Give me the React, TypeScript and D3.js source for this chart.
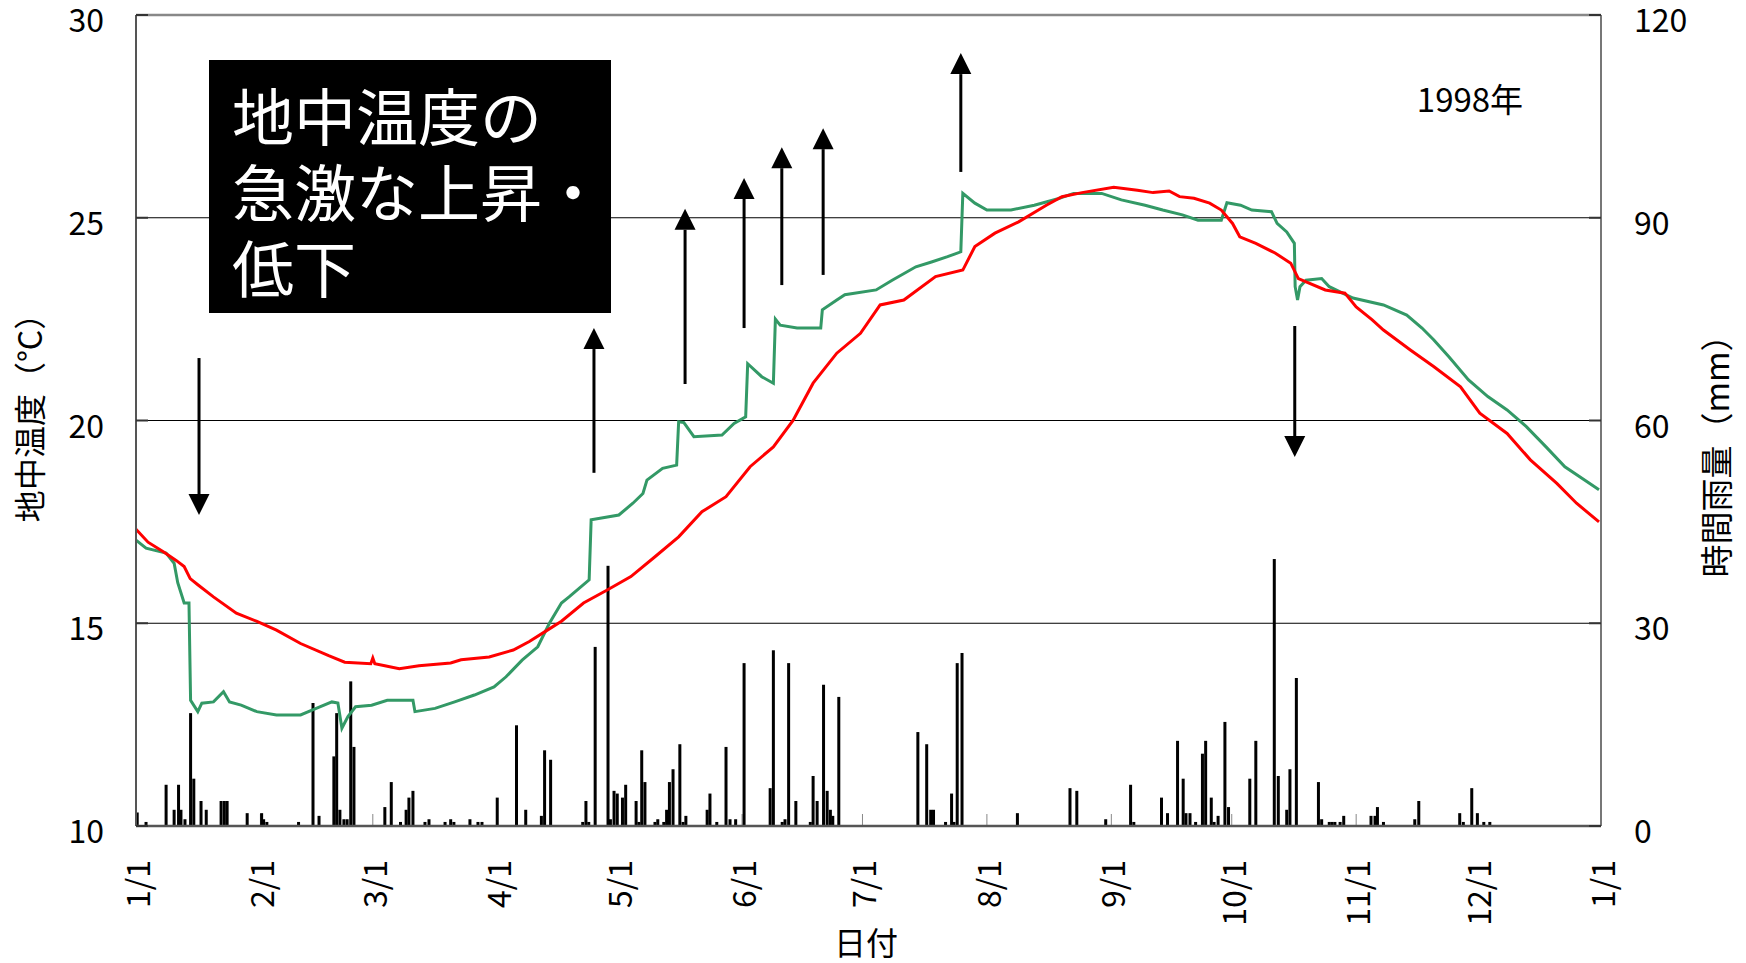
import React from "react";
import * as d3 from "d3";

const W = 1746;
const H = 963;
const FONT = "'Noto Sans CJK JP', 'Noto Sans', sans-serif";

// Soil temperature, series shown in red: [day of year (fractional), °C]
const redSeries: [number, number][] = [
  [0, 17.32], [3, 17.0], [7, 16.75], [10, 16.55], [12, 16.4], [13.5, 16.1], [15.4, 15.95],
  [19.3, 15.65], [25, 15.25], [30, 15.05], [35, 14.83], [41, 14.5], [48, 14.2], [52, 14.04],
  [58.5, 14.0], [59, 14.14], [59.5, 14.0], [62, 13.95], [65.6, 13.88], [70.5, 13.95],
  [78.4, 14.02], [81, 14.1], [88, 14.17], [94, 14.34], [98, 14.55], [102, 14.8], [106, 15.05],
  [111.5, 15.5], [117.4, 15.82], [123.3, 16.15], [129.3, 16.64], [135.2, 17.13], [141, 17.75],
  [147, 18.12], [153, 18.86], [158.8, 19.35], [163.7, 20.0], [168.7, 20.92], [174.6, 21.66],
  [180.5, 22.15], [185.4, 22.85], [191.3, 22.97], [199.2, 23.55], [206, 23.71], [209, 24.29],
  [214, 24.62], [219.9, 24.9], [226.8, 25.31], [230.7, 25.52], [235.7, 25.62], [243.6, 25.75],
  [249.5, 25.68], [253.4, 25.62], [257.4, 25.66], [260, 25.52], [263.6, 25.48], [267.5, 25.36],
  [270.4, 25.19], [273.2, 24.86], [275, 24.53], [279, 24.37], [283.8, 24.13], [287.7, 23.88],
  [289.6, 23.5], [296.3, 23.22], [301.2, 23.14], [304, 22.8], [308, 22.48], [310.8, 22.23],
  [317.5, 21.74], [323.3, 21.33], [330, 20.83], [334.8, 20.18], [341.6, 19.68], [347.4, 19.03],
  [354, 18.45], [358.9, 17.96], [364.5, 17.5],
];

// Soil temperature, series shown in green: [day of year (fractional), °C]
const greenSeries: [number, number][] = [
  [0, 17.05], [2.5, 16.85], [7.5, 16.73], [9.5, 16.48], [10.4, 16.0], [12, 15.5], [13.2, 15.5],
  [13.6, 13.1], [15.4, 12.82], [16.4, 13.03], [19.3, 13.06], [21.8, 13.31], [23.3, 13.06],
  [26.2, 12.98], [30.1, 12.82], [35, 12.74], [41, 12.74], [44.9, 12.9], [48.8, 13.06],
  [50.3, 13.03], [51.3, 12.41], [52.8, 12.7], [54.7, 12.94], [58.7, 12.98], [62.6, 13.1],
  [69, 13.1], [69.5, 12.82], [74.5, 12.9], [79.4, 13.06], [84.3, 13.23], [89.2, 13.43],
  [92.2, 13.68], [96.2, 14.09], [100.1, 14.42], [103, 15.0], [106, 15.5], [107.9, 15.65],
  [112.9, 16.07], [113.4, 17.55], [120.3, 17.67], [123.8, 17.96], [126.3, 18.2], [127.3, 18.53],
  [131.2, 18.82], [134.7, 18.9], [135.2, 19.97], [136.5, 19.95], [139, 19.6], [146, 19.64],
  [149, 19.93], [151.9, 20.09], [152.4, 21.4], [155.9, 21.08], [158.8, 20.92], [159.3, 22.5],
  [160.5, 22.35], [164.7, 22.28], [170.6, 22.28], [171, 22.73], [174.6, 22.97], [176.6, 23.1],
  [184.4, 23.22], [188.4, 23.46], [194.3, 23.79], [198.2, 23.91], [202.2, 24.04], [205.5, 24.16],
  [206, 25.6], [209, 25.36], [212, 25.19], [218, 25.19], [223.8, 25.31], [229.7, 25.47],
  [233.6, 25.6], [240.6, 25.6], [245.5, 25.44], [251.4, 25.31], [255.8, 25.19], [260.7, 25.07],
  [264.6, 24.94], [270.4, 24.94], [271.8, 25.37], [275.2, 25.31], [278, 25.19], [282.9, 25.15],
  [284.3, 24.86], [286.7, 24.65], [288.6, 24.37], [288.8, 23.3], [289.4, 22.97], [290, 23.3],
  [291.5, 23.46], [295.4, 23.5], [297.3, 23.3], [303.2, 23.02], [310.8, 22.85], [316.6, 22.6],
  [320.4, 22.28], [323.3, 21.99], [327.1, 21.57], [332, 21.0], [336.8, 20.59], [341.6, 20.26],
  [346.4, 19.85], [351.3, 19.35], [356, 18.86], [360.9, 18.53], [364.5, 18.29],
];

// Hourly rainfall: [day of year (fractional), mm]
const rainfall: [number, number][] = [
  [0.3, 2], [2.5, 0.6], [7.5, 6.1], [9.5, 2.4], [10.6, 6.1], [11.2, 2.4], [12.2, 1.0],
  [13.6, 16.7], [14.4, 7.0], [16.2, 3.7], [17.5, 2.4], [21.2, 3.7], [22, 3.7], [22.7, 3.7],
  [27.7, 1.9], [31.3, 1.9], [31.8, 1.0], [32.6, 0.6], [40.5, 0.6], [44.1, 18.2], [45.6, 1.5],
  [49.3, 10.3], [50, 16.7], [50.8, 2.4], [51.8, 1.0], [52.6, 1.0], [53.5, 21.4], [54.3, 11.7],
  [62, 2.8], [63.6, 6.5], [65.9, 0.6], [67.3, 2.4], [68, 4.2], [69, 5.2], [72, 0.6], [73, 1.0],
  [77, 0.6], [78.4, 1.0], [79.2, 0.6], [83.2, 1.0], [85.2, 0.6], [86.2, 0.6], [90, 4.2],
  [94.8, 14.9], [97.1, 2.4], [101, 1.5], [101.8, 11.2], [103.3, 9.8], [111.3, 0.6], [112.1, 3.7],
  [112.8, 0.6], [114.4, 26.5], [117.6, 38.5], [118.2, 1.0], [119.1, 5.2], [119.9, 4.8],
  [121.2, 4.2], [122, 6.1], [124.6, 3.7], [125.3, 0.6], [126, 11.2], [126.8, 6.5], [129.3, 0.6],
  [130, 1.0], [131.5, 0.6], [132.2, 2.4], [132.9, 6.5], [133.8, 8.4], [135.5, 12.1], [136.3, 0.6],
  [137, 1.5], [142.3, 2.4], [143, 4.8], [144.7, 0.6], [147, 11.7], [148, 1.0], [149.4, 1.0],
  [151.5, 24.1], [158, 5.6], [158.8, 26.0], [161, 0.6], [161.7, 1.0], [162.6, 24.1], [164.4, 3.7],
  [168, 0.6], [168.7, 7.4], [169.7, 3.7], [171.3, 20.9], [172.2, 5.2], [173, 2.4], [173.6, 1.5],
  [175.1, 19.1], [194.8, 13.9], [197, 12.1], [198, 2.4], [198.7, 2.4], [201.7, 0.6], [203.2, 4.8],
  [203.8, 0.6], [204.6, 24.1], [205.8, 25.6], [219.6, 1.9], [232.7, 5.6], [234.4, 5.2],
  [241.6, 1.0], [247.8, 6.1], [248.6, 0.6], [255.5, 4.2], [257, 1.9], [259.5, 12.6], [260.9, 7.0],
  [261.6, 1.9], [262.6, 1.9], [264, 0.6], [265.7, 10.7], [266.5, 12.6], [267.9, 4.2], [268.6, 0.6],
  [269.6, 1.5], [271.3, 15.4], [272.2, 2.8], [277.5, 7.0], [279, 12.6], [283.6, 39.5], [284.6, 7.4],
  [286.7, 2.4], [287.5, 8.4], [289.1, 21.9], [294.6, 6.5], [295.4, 1.0], [297.3, 0.6], [298, 0.6],
  [298.7, 0.6], [300, 0.6], [300.9, 1.5], [307.7, 1.5], [308.7, 1.5], [309.3, 2.8], [310.8, 0.6],
  [318.6, 1.0], [319.6, 3.7], [329.8, 1.9], [330.7, 0.6], [332.8, 5.6], [334.2, 1.9], [335.8, 0.6],
  [337.3, 0.6],
];

// Marked sudden rises / drops: day of year, arrow tail and tip in °C
const arrows: { day: number; from: number; to: number }[] = [
  { day: 15.7, from: 21.54, to: 17.67 },
  { day: 114.1, from: 18.71, to: 22.28 },
  { day: 136.8, from: 20.9, to: 25.22 },
  { day: 151.5, from: 22.28, to: 25.98 },
  { day: 160.9, from: 23.34, to: 26.74 },
  { day: 171.2, from: 23.59, to: 27.21 },
  { day: 205.5, from: 26.13, to: 29.06 },
  { day: 288.7, from: 22.33, to: 19.1 },
];

const tempTicks = [10, 15, 20, 25, 30];
const rainTicks = [0, 30, 60, 90, 120];
const monthLabels = ["1/1", "2/1", "3/1", "4/1", "5/1", "6/1", "7/1", "8/1", "9/1", "10/1", "11/1", "12/1", "1/1"];
const noteLines = ["地中温度の", "急激な上昇・", "低下"];

const START = Date.UTC(1998, 0, 1);
const END = Date.UTC(1999, 0, 1);
const toDate = (d: number) => new Date(START + d * 864e5);

export default function App() {
  const left = 136, right = 1601, top = 15, bottom = 826;
  const x = d3.scaleUtc().domain([new Date(START), new Date(END)]).range([left, right]);
  const yT = d3.scaleLinear().domain([10, 30]).range([bottom, top]);
  const yR = d3.scaleLinear().domain([0, 120]).range([bottom, top]);

  const line = d3
    .line<[number, number]>()
    .x((d) => x(toDate(d[0])))
    .y((d) => yT(d[1]));

  const monthTicks = [...d3.utcMonth.range(new Date(START), new Date(END)), new Date(END)];

  return (
    <svg
      width={W}
      height={H}
      style={{ position: "absolute", left: 0, top: 0, background: "#fff" }}
      fontFamily={FONT}
    >
      <rect x={0} y={0} width={W} height={H} fill="#fff" />

      {/* horizontal gridlines */}
      {tempTicks.slice(1, -1).map((t) => (
        <line key={t} x1={left} x2={right} y1={yT(t)} y2={yT(t)} stroke="#000" strokeWidth={1.2} />
      ))}

      {/* month tick marks */}
      {monthTicks.map((m, i) => (
        <line key={i} x1={x(m)} x2={x(m)} y1={bottom - 12} y2={bottom} stroke="#888" strokeWidth={1} />
      ))}

      {/* rainfall bars */}
      {rainfall.map(([d, v], i) => (
        <rect key={i} x={x(toDate(d)) - 1.5} width={3} y={yR(v)} height={yR(0) - yR(v)} fill="#000" />
      ))}

      {/* temperature lines */}
      <path d={line(greenSeries) || ""} fill="none" stroke="#339966" strokeWidth={3} strokeLinejoin="miter" />
      <path d={line(redSeries) || ""} fill="none" stroke="#ff0000" strokeWidth={3} strokeLinejoin="miter" />

      {/* frame */}
      <line x1={left} x2={right} y1={top} y2={top} stroke="#888" strokeWidth={2.5} />
      <line x1={right} x2={right} y1={top} y2={bottom} stroke="#777" strokeWidth={2} />
      <line x1={left} x2={left} y1={top} y2={bottom} stroke="#555" strokeWidth={2} />
      <line x1={left} x2={right} y1={bottom} y2={bottom} stroke="#555" strokeWidth={2.5} />

      {/* inner ticks on both value axes */}
      {tempTicks.map((t) => (
        <line key={"l" + t} x1={left} x2={left + 12} y1={yT(t)} y2={yT(t)} stroke="#333" strokeWidth={2} />
      ))}
      {rainTicks.map((t) => (
        <line key={"r" + t} x1={right - 12} x2={right} y1={yR(t)} y2={yR(t)} stroke="#333" strokeWidth={2} />
      ))}

      {/* left axis labels */}
      {tempTicks.map((t) => (
        <text key={t} x={104} y={yT(t) + 3} textAnchor="end" dominantBaseline="central" fontSize={32} fill="#000">
          {t}
        </text>
      ))}
      {/* right axis labels */}
      {rainTicks.map((t) => (
        <text key={t} x={1634} y={yR(t) + 3} textAnchor="start" dominantBaseline="central" fontSize={32} fill="#000">
          {t}
        </text>
      ))}
      {/* month labels */}
      {monthTicks.map((m, i) => (
        <text
          key={i}
          transform={`translate(${x(m)},860) rotate(-90)`}
          textAnchor="end"
          dominantBaseline="central"
          fontSize={32}
          fill="#000"
        >
          {monthLabels[i]}
        </text>
      ))}

      {/* axis titles */}
      <text x={866} y={941} textAnchor="middle" dominantBaseline="central" fontSize={32} fill="#000">
        日付
      </text>
      <text transform="translate(28,410) rotate(-90)" textAnchor="middle" dominantBaseline="central" fontSize={32} fill="#000">
        地中温度（°C）
      </text>
      <text transform="translate(1715,448) rotate(-90)" textAnchor="middle" dominantBaseline="central" fontSize={33} fill="#000">
        時間雨量（mm）
      </text>

      {/* year label */}
      <text x={1470} y={98} textAnchor="middle" dominantBaseline="central" fontSize={33} fill="#000">
        1998年
      </text>

      {/* annotation box */}
      <rect x={209} y={60} width={402} height={253} fill="#000" />
      {noteLines.map((s, i) => (
        <text key={i} x={232} y={114 + i * 76} dominantBaseline="central" fontSize={62} fill="#fff">
          {s}
        </text>
      ))}

      {/* arrows */}
      {arrows.map((a, i) => {
        const ax = x(toDate(a.day));
        const y0 = yT(a.from);
        const y1 = yT(a.to);
        const dir = y1 < y0 ? -1 : 1;
        const headLen = 21;
        const baseY = y1 - dir * headLen;
        return (
          <g key={i}>
            <line x1={ax} x2={ax} y1={y0} y2={baseY} stroke="#000" strokeWidth={3} />
            <path d={`M${ax},${y1} L${ax - 10.5},${baseY} L${ax + 10.5},${baseY} Z`} fill="#000" />
          </g>
        );
      })}
    </svg>
  );
}
